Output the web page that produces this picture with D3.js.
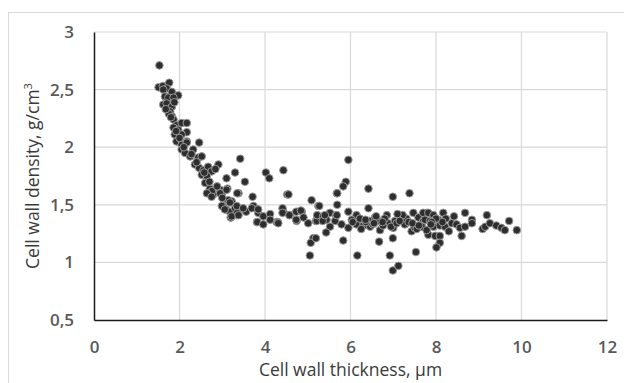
<!DOCTYPE html>
<html>
<head>
<meta charset="utf-8">
<script src="https://cdn.jsdelivr.net/npm/d3@7"></script>
<style>
  html, body { margin: 0; padding: 0; background: #fff; }
  svg { display: block; }
</style>
</head>
<body>
<svg id="chart" width="624" height="383"></svg>
<script>
// Cell wall thickness (µm) and density (g/cm³) per measured fibre
const thickness = [
  1.53, 1.51, 1.61, 1.76, 1.70, 1.62, 1.82, 1.97, 1.66, 1.74, 1.86, 1.62, 1.70, 1.82, 1.88,
  1.78, 1.82, 1.75, 1.86, 1.93, 2.05, 2.17, 1.86, 1.97, 2.17, 2.05, 1.89, 1.97, 2.17, 2.46,
  1.93, 2.05, 2.17, 2.05, 2.13, 2.32, 2.25, 2.44, 2.52, 2.36, 2.46, 2.56, 2.67, 2.75, 2.91,
  2.84, 2.52, 2.64, 2.60, 2.71, 2.79, 2.76, 2.95, 2.99, 3.12, 3.10, 3.30, 3.38, 3.42, 3.03,
  3.14, 3.22, 3.09, 3.18, 3.30, 3.20, 3.34, 2.64, 2.75, 2.95, 3.10, 3.14, 3.35, 3.53, 2.99,
  3.18, 3.06, 3.20, 3.35, 3.56, 3.71, 3.73, 3.81, 3.84, 3.96, 4.12, 4.27, 4.43, 4.52, 4.58,
  4.74, 4.86, 5.01, 5.09, 5.19, 5.25, 5.13, 5.05, 5.07, 4.02, 4.10, 4.43, 4.55, 5.68, 3.34,
  3.49, 3.69, 3.84, 3.22, 3.38, 3.82, 3.96, 4.12, 4.30, 4.41, 4.41, 4.57, 4.73, 4.84, 4.73,
  4.90, 5.21, 5.22, 5.36, 5.44, 5.52, 5.66, 5.64, 5.52, 4.31, 5.35, 5.40, 5.43, 5.19, 5.27,
  5.95, 5.89, 5.83, 5.69, 5.69, 6.42, 6.99, 7.38, 6.42, 5.95, 6.14, 5.68, 5.79, 5.95, 6.03,
  6.14, 6.30, 6.44, 6.46, 6.57, 6.65, 6.69, 6.85, 6.88, 7.04, 7.00, 7.16, 7.27, 7.31, 7.43,
  7.47, 7.59, 7.70, 7.78, 7.82, 5.83, 6.67, 6.99, 6.16, 6.92, 7.53, 6.99, 7.12, 6.22, 6.36,
  6.52, 6.60, 6.76, 6.80, 6.95, 7.08, 7.22, 7.36, 7.50, 7.64, 7.10, 6.25, 6.55,
  7.70, 7.82, 7.94, 8.17, 7.74, 7.86, 8.05, 8.23, 8.37, 7.67, 7.78, 7.94, 8.09, 8.21, 8.48,
  8.56, 8.68, 8.68, 8.84, 8.84, 8.60, 7.98, 8.09, 8.09, 8.01, 9.19, 9.09, 9.15, 9.26, 9.41,
  9.53, 9.61, 9.71, 9.89, 8.30, 8.00, 7.90, 7.55, 8.42,
  1.68, 1.80, 1.92, 2.00, 2.10, 2.28, 2.40, 2.58, 2.70, 2.88, 3.00, 6.05, 6.35, 6.75, 7.15,
  7.45, 7.60, 7.88, 8.15
];
const density = [
  2.71, 2.52, 2.53, 2.56, 2.51, 2.50, 2.48, 2.45, 2.44, 2.43, 2.43, 2.37, 2.38, 2.35, 2.39,
  2.31, 2.27, 2.29, 2.24, 2.19, 2.21, 2.21, 2.17, 2.15, 2.13, 2.11, 2.11, 2.06, 2.05, 2.04,
  2.05, 2.02, 2.04, 1.98, 1.95, 1.98, 1.92, 1.91, 1.92, 1.85, 1.82, 1.80, 1.83, 1.79, 1.85,
  1.81, 1.76, 1.75, 1.69, 1.64, 1.59, 1.62, 1.63, 1.60, 1.64, 1.73, 1.78, 1.60, 1.90, 1.50,
  1.53, 1.53, 1.46, 1.44, 1.47, 1.39, 1.41, 1.60, 1.57, 1.60, 1.63, 1.54, 1.60, 1.70, 1.49,
  1.52, 1.46, 1.39, 1.43, 1.44, 1.57, 1.49, 1.35, 1.43, 1.40, 1.42, 1.35, 1.44, 1.59, 1.41,
  1.36, 1.44, 1.34, 1.54, 1.36, 1.49, 1.21, 1.06, 1.17, 1.78, 1.73, 1.80, 1.59, 1.60, 1.49,
  1.47, 1.47, 1.46, 1.40, 1.41, 1.35, 1.33, 1.37, 1.35, 1.47, 1.43, 1.41, 1.44, 1.45, 1.37,
  1.39, 1.36, 1.41, 1.40, 1.37, 1.43, 1.41, 1.36, 1.31, 1.34, 1.36, 1.41, 1.26, 1.21, 1.49,
  1.89, 1.70, 1.66, 1.60, 1.50, 1.64, 1.57, 1.60, 1.47, 1.44, 1.41, 1.41, 1.33, 1.30, 1.37,
  1.33, 1.32, 1.36, 1.31, 1.39, 1.36, 1.28, 1.41, 1.34, 1.36, 1.30, 1.39, 1.33, 1.38, 1.27,
  1.43, 1.39, 1.36, 1.43, 1.24, 1.19, 1.18, 1.21, 1.06, 1.06, 1.09, 0.93, 0.97, 1.38, 1.35,
  1.33, 1.40, 1.32, 1.38, 1.31, 1.34, 1.41, 1.35, 1.30, 1.32, 1.42, 1.29, 1.34,
  1.43, 1.43, 1.41, 1.43, 1.37, 1.36, 1.37, 1.38, 1.34, 1.31, 1.28, 1.31, 1.32, 1.31, 1.33,
  1.30, 1.43, 1.31, 1.37, 1.34, 1.23, 1.23, 1.23, 1.17, 1.13, 1.41, 1.29, 1.31, 1.34, 1.32,
  1.30, 1.28, 1.36, 1.28, 1.27, 1.38, 1.35, 1.29, 1.40,
  2.33, 2.26, 2.14, 2.08, 2.00, 1.94, 1.87, 1.78, 1.70, 1.66, 1.56, 1.35, 1.37, 1.35, 1.36,
  1.34, 1.32, 1.33, 1.35
];
const xTicks = [0, 2, 4, 6, 8, 10, 12];
const yTicks = [0.5, 1, 1.5, 2, 2.5, 3];
const xTitle = "Cell wall thickness, µm";

const points = thickness.map((t, i) => ({ x: t, y: density[i] }));

const svg = d3.select("#chart");
const margin = { left: 94, top: 32, right: 17, bottom: 63 };
const W = 624, H = 383;
const plotW = W - margin.left - margin.right;
const plotH = H - margin.top - margin.bottom;

const x = d3.scaleLinear().domain([0, 12]).range([margin.left, margin.left + plotW]);
const y = d3.scaleLinear().domain([0.5, 3]).range([margin.top + plotH, margin.top]);

// outer chart-area frame
svg.append("rect")
  .attr("x", 8.5).attr("y", 12.5)
  .attr("width", 640).attr("height", 400)
  .attr("fill", "#fff").attr("stroke", "#d9d9d9").attr("stroke-width", 1);

// gridlines
const grid = svg.append("g").attr("stroke", "#d9d9d9").attr("stroke-width", 1.2);
grid.selectAll("line.v").data(xTicks.slice(1)).join("line")
  .attr("x1", d => x(d)).attr("x2", d => x(d))
  .attr("y1", y(0.5)).attr("y2", y(3));
grid.selectAll("line.h").data(yTicks.slice(1)).join("line")
  .attr("x1", x(0)).attr("x2", x(12))
  .attr("y1", d => y(d)).attr("y2", d => y(d));

const fmt = d => String(d).replace(".", ",");
const tickFont = "'Open Sans', 'Liberation Sans', sans-serif";

// y axis
const yAxis = svg.append("g")
  .attr("transform", `translate(${x(0)},0)`)
  .call(d3.axisLeft(y).tickValues(yTicks).tickFormat(fmt).tickSize(0).tickPadding(20));
yAxis.select(".domain").attr("stroke", "#1a1a1a").attr("stroke-width", 1.5);
yAxis.selectAll("text")
  .attr("fill", "#595959").attr("font-size", 17).attr("font-weight", 600)
  .attr("font-family", tickFont);

// x axis
const xAxis = svg.append("g")
  .attr("transform", `translate(0,${y(0.5)})`)
  .call(d3.axisBottom(x).tickValues(xTicks).tickFormat(fmt).tickSize(0).tickPadding(21));
xAxis.select(".domain").attr("stroke", "#1a1a1a").attr("stroke-width", 1.5);
xAxis.selectAll("text")
  .attr("fill", "#595959").attr("font-size", 17).attr("font-weight", 600)
  .attr("font-family", tickFont);

// points
svg.append("g").selectAll("circle").data(points).join("circle")
  .attr("cx", d => x(d.x)).attr("cy", d => y(d.y))
  .attr("r", 3.8)
  .attr("fill", "#2e2e2e")
  .attr("stroke", "#9a9a9a").attr("stroke-width", 1);

// axis titles
svg.append("text")
  .attr("x", x(6)).attr("y", 376)
  .attr("text-anchor", "middle")
  .attr("font-family", tickFont).attr("font-size", 17.5).attr("fill", "#3a3a3a")
  .text(xTitle);

const yt = svg.append("text")
  .attr("transform", `translate(39,${(y(0.5) + y(3)) / 2}) rotate(-90)`)
  .attr("text-anchor", "middle")
  .attr("font-family", tickFont).attr("font-size", 17.5).attr("fill", "#3a3a3a");
yt.append("tspan").text("Cell wall density, g/cm");
yt.append("tspan").attr("dy", -7).attr("font-size", 11).text("3");
</script>
</body>
</html>
